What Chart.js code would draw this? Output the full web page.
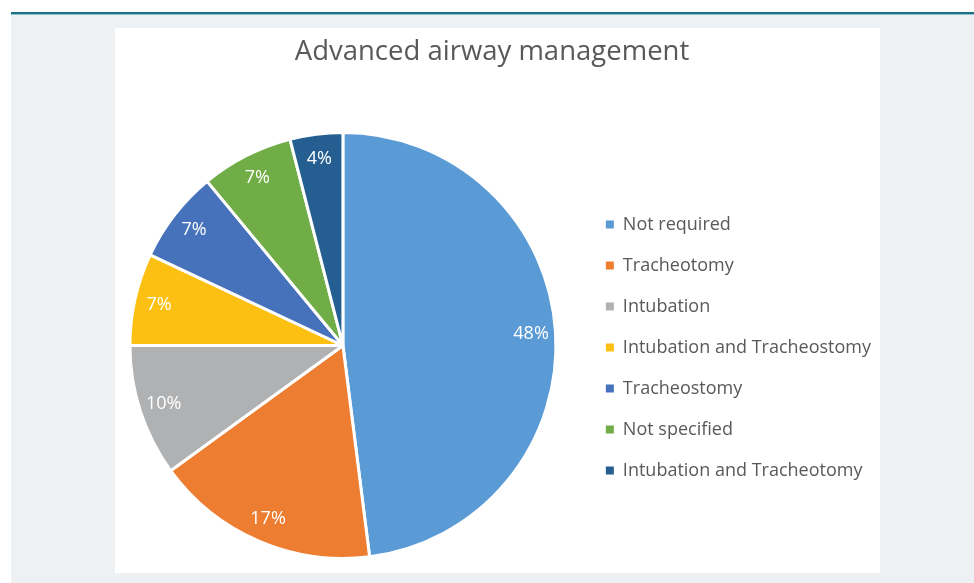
<!DOCTYPE html>
<html>
<head>
<meta charset="utf-8">
<script src="https://cdn.jsdelivr.net/npm/chart.js@4/dist/chart.umd.min.js"></script>
<style>
  body { margin: 0; background: #fff; overflow: hidden; width: 974px; height: 583px; }
  #panel { position: absolute; left: 11px; top: 12px; right: 0; bottom: 0; background: #edf1f4;
           border-top: 2px solid #1d6f86; box-shadow: inset 0 1px 0 #8fc3d0; }
  #card { position: absolute; left: 115px; top: 28px; width: 765px; height: 545px; background: #fff; }
  #wrap { position: absolute; left: 103px; top: 28px; height: 545px; }
</style>
</head>
<body>
<div id="panel"></div>
<div id="card"></div>
<div id="wrap"><canvas id="pie-chart" height="545"></canvas></div>
<script>
const categories = [
  'Not required',
  'Tracheotomy',
  'Intubation',
  'Intubation and Tracheostomy',
  'Tracheostomy',
  'Not specified',
  'Intubation and Tracheotomy'
];
const percentages = [48, 17, 10, 7, 7, 7, 4];
const sliceColors = ['#5b9bd5', '#ed7d31', '#b0b1b3', '#fcc012', '#4671bb', '#70ad47', '#255f91'];

const FONT = "'Open Sans', 'Noto Sans', sans-serif";
const LEGEND_SIZE = 18;
const LEGEND_PAD = 23;

// legend width depends on the longest label, so size the canvas to fit it
const measure = document.createElement('canvas').getContext('2d');
measure.font = LEGEND_SIZE + 'px ' + FONT;
const longest = Math.max(...categories.map(c => measure.measureText(c).width));
const canvas = document.getElementById('pie-chart');
canvas.width = Math.ceil(479 + LEGEND_PAD + 8 + LEGEND_SIZE / 2 + longest + 10);

// percent labels inside the slices
const sliceLabels = {
  id: 'sliceLabels',
  afterDatasetsDraw(chart) {
    const ctx = chart.ctx;
    const meta = chart.getDatasetMeta(0);
    ctx.save();
    ctx.fillStyle = '#ffffff';
    ctx.font = '18px ' + FONT;
    ctx.textAlign = 'center';
    ctx.textBaseline = 'middle';
    meta.data.forEach((arc, i) => {
      const p = arc.getProps(['x', 'y', 'startAngle', 'endAngle', 'outerRadius'], true);
      const mid = (p.startAngle + p.endAngle) / 2;
      const r = p.outerRadius * 0.885;
      ctx.fillText(percentages[i] + '%', p.x + Math.cos(mid) * r, p.y + Math.sin(mid) * r);
    });
    ctx.restore();
  }
};

new Chart(canvas.getContext('2d'), {
  type: 'pie',
  data: {
    labels: categories,
    datasets: [{
      data: percentages,
      backgroundColor: sliceColors,
      borderColor: '#ffffff',
      borderWidth: 3
    }]
  },
  options: {
    responsive: false,
    animation: false,
    devicePixelRatio: 1,
    layout: { padding: { left: 0, right: 0, top: 0, bottom: 13 } },
    plugins: {
      title: {
        display: true,
        text: 'Advanced airway management',
        color: '#595959',
        font: { family: FONT, size: 27.5, weight: 'normal' },
        padding: { top: 8, bottom: 62 }
      },
      legend: {
        position: 'right',
        fullSize: false,
        align: 'center',
        title: { display: true, text: '', font: { size: 3.5 }, padding: 0 },
        labels: {
          boxWidth: 8,
          boxHeight: 8,
          padding: LEGEND_PAD,
          color: '#595959',
          font: { family: FONT, size: LEGEND_SIZE },
          generateLabels(chart) {
            return categories.map((c, i) => ({
              text: c,
              fillStyle: sliceColors[i],
              strokeStyle: sliceColors[i],
              lineWidth: 0,
              fontColor: '#595959',
              index: i
            }));
          }
        }
      },
      tooltip: { enabled: false }
    }
  },
  plugins: [sliceLabels]
});
</script>
</body>
</html>
